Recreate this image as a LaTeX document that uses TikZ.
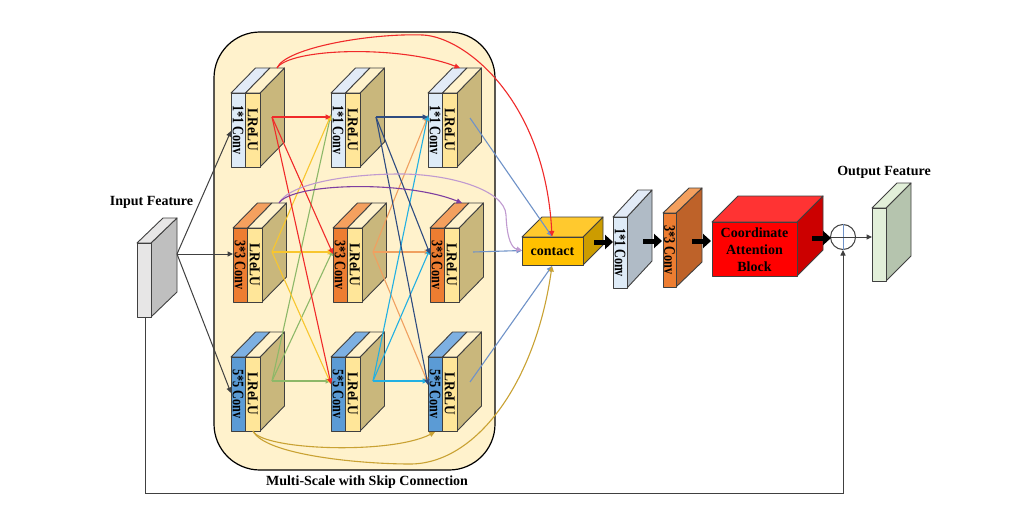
\documentclass[tikz,border=0pt]{standalone}
\usepackage{fontspec}
\usepackage{graphicx}
\setmainfont{Liberation Serif}
\usetikzlibrary{arrows.meta,calc}
\definecolor{panelc}{HTML}{FFF2CC}
\definecolor{sidec}{HTML}{C9B77C}
\definecolor{lrf}{HTML}{FFE699}
\definecolor{lrt}{HTML}{FFF2CC}
\definecolor{aF}{HTML}{DEEBF7}\definecolor{aT}{HTML}{E2EBF7}
\definecolor{bF}{HTML}{ED7D31}\definecolor{bT}{HTML}{F4A05E}
\definecolor{cF}{HTML}{5B9BD5}\definecolor{cT}{HTML}{7DB0E2}
\definecolor{cred}{HTML}{F02A2A}
\definecolor{cyel}{HTML}{F8C62E}
\definecolor{cgrn}{HTML}{8DB868}
\definecolor{cnav}{HTML}{2F4C80}
\definecolor{cora}{HTML}{F0A060}
\definecolor{ccya}{HTML}{22B0E2}
\definecolor{cste}{HTML}{6F92C8}
\definecolor{cpur}{HTML}{7E3FA0}
\definecolor{clpu}{HTML}{C09AD0}
\definecolor{cgol}{HTML}{C9A233}
\definecolor{edgec}{HTML}{404040}
\definecolor{inF}{HTML}{E7E6E6}\definecolor{inS}{HTML}{BFBFBF}
\definecolor{oneS}{HTML}{B0BBC6}
\definecolor{thrS}{HTML}{BE6229}
\definecolor{conF}{HTML}{FFC000}\definecolor{conT}{HTML}{FFC92E}\definecolor{conS}{HTML}{CC9C00}
\definecolor{redT}{HTML}{FF3333}\definecolor{redS}{HTML}{CC0000}
\definecolor{outF}{HTML}{E2EFD9}\definecolor{outS}{HTML}{B5C4AE}
\tikzset{
  face/.style={draw=edgec,line width=0.9pt,line join=round},
  link/.style={line width=1.1pt,-{Triangle[length=5.5pt,width=5pt]}},
  feed/.style={draw=edgec,line width=1pt,-{Triangle[length=5.5pt,width=5pt]}},
  fat/.style={line width=5pt,black,-{Triangle[length=8pt,width=14pt]}},
  lab/.style={font=\bfseries\fontsize{14}{16}\selectfont,text=black,inner sep=0pt},
  vlab/.style={font=\bfseries,text=black,rotate=-90,inner sep=0pt},
}
\newcommand{\convtext}[1]{\scalebox{.76}[1]{\fontsize{16}{17}\selectfont #1}}
\newcommand{\lrtext}{\scalebox{.89}[1]{\fontsize{15}{16}\selectfont LReLU}}
% multi-scale block: name, x, y (front top-left), front colour, top colour, text
\newcommand{\msblock}[6]{%
  \fill[face,fill=sidec] (#2+29,#3) -- ++(24.5,-25) -- ++(0,74) -- ++(-24.5,25) -- cycle;
  \fill[face,fill=#5] (#2,#3) -- ++(24.5,-25) -- ++(14.5,0) -- ++(-24.5,25) -- cycle;
  \fill[face,fill=lrt] (#2+14.5,#3) -- ++(24.5,-25) -- ++(14.5,0) -- ++(-24.5,25) -- cycle;
  \fill[face,fill=#4] (#2,#3) rectangle ++(14.5,74);
  \fill[face,fill=lrf] (#2+14.5,#3) rectangle ++(14.5,74);
  \node[vlab] (#1a) at (#2+7.2,#3+37) {\convtext{#6}};
  \node[vlab] (#1b) at (#2+21.8,#3+37) {\lrtext};
  \coordinate (#1in) at (#2,#3+24);
  \coordinate (#1out) at (#2+41,#3+24);
  \coordinate (#1tgt) at (#2+32,#3-25);
}
% plain cuboid: x0, y back top, x1, x2, y0, y1, front, top, side
\newcommand{\cuboid}[9]{%
  \fill[face,fill=#9] (#3,#5) -- (#4,#2) -- (#4,#2+#6-#5) -- (#3,#6) -- cycle;
  \fill[face,fill=#8] (#1,#5) -- (#1+#4-#3,#2) -- (#4,#2) -- (#3,#5) -- cycle;
  \fill[face,fill=#7] (#1,#5) rectangle (#3,#6);
}
\begin{document}
\begin{tikzpicture}[x=1pt,y=-1pt]
\useasboundingbox (0,0) rectangle (1032,508);
\fill[white] (0,0) rectangle (1032,508);
\draw[line width=1.2pt,fill=panelc,rounded corners=46pt] (214,32) rectangle (495,470);
\node[lab] (panellabel) at (367,482) {Multi-Scale with Skip Connection};
\node[lab] (inlabel) at (151.5,202) {Input Feature};
\node[lab] (outlabel) at (884,172.5) {Output Feature};

\msblock{A1}{231}{93}{aF}{aT}{1*1 Conv}
\msblock{A2}{331}{93}{aF}{aT}{1*1 Conv}
\msblock{A3}{428}{93}{aF}{aT}{1*1 Conv}
\msblock{B1}{233}{228}{bF}{bT}{3*3 Conv}
\msblock{B2}{333}{228}{bF}{bT}{3*3 Conv}
\msblock{B3}{430}{228}{bF}{bT}{3*3 Conv}
\msblock{C1}{231}{357}{cF}{cT}{5*5 Conv}
\msblock{C2}{331}{357}{cF}{cT}{5*5 Conv}
\msblock{C3}{428}{357}{cF}{cT}{5*5 Conv}
\coordinate (A2out) at (376,117);
\coordinate (B1out) at (272,252);
\coordinate (B2out) at (373,252);
\coordinate (C1out) at (272,381);
\coordinate (C2out) at (373,381);
\coordinate (A1x) at (277,68);
\coordinate (B1x) at (279,203);
\coordinate (C1x) at (253,431);
\coordinate (A3out) at (470,118);
\coordinate (B3out) at (473,252);
\coordinate (C3out) at (470,382);

% input, contact and the later blocks
\cuboid{137}{218}{151}{177}{243}{317}{inF}{inF}{inS}
\cuboid{522}{217}{583}{603}{237}{265}{conF}{conT}{conS}
\node[lab] (contact) at (552.5,252) {contact};
\cuboid{613}{190}{627}{652}{217}{288}{aF}{aT}{oneS}
\node[vlab] (oneconv) at (620,252.5) {\convtext{1*1 Conv}};
\cuboid{663}{188}{676}{702}{213}{287}{bF}{bT}{thrS}
\node[vlab] (thrconv) at (669.5,250) {\convtext{3*3 Conv}};
\cuboid{712}{196}{797}{823}{222}{276}{red}{redT}{redS}
\node[lab,align=center,font=\bfseries\fontsize{14}{17}\selectfont] (cablock) at (754.5,250) {Coordinate\\Attention\\Block};
\cuboid{872}{183}{886}{911}{208}{281}{outF}{outF}{outS}
\node[circle,draw=edgec,line width=1pt,minimum size=25pt,inner sep=0pt] (sum) at (843,237) {};
\draw[line width=1pt,cste] (sum.north) -- (sum.south);
\draw[line width=1pt,edgec] (sum.west) -- (sum.east);

\coordinate (inR) at (177,254);
\coordinate (inB) at (145,317);
\coordinate (tipA) at (231,131);
\coordinate (tipB) at (233,254);
\coordinate (tipC) at (231,393);
\coordinate (outIn) at (872,237);
\coordinate (fbA) at (145,493);
\coordinate (fbB) at (843,493);
\coordinate (ctop) at (552,236.5);
\coordinate (cbot) at (552,266);
\coordinate (cleft) at (522,250.5);

\draw[feed] (inR) -- (tipA);
\draw[feed] (inR) -- (tipB);
\draw[feed] (inR) -- (tipC);
\draw[feed] (inB) -- (fbA) -- (fbB) -- (sum.south);
\draw[feed] (sum.east) -- (outIn);

% green
\draw[link,cgrn] (C1out) -- ([yshift=3pt]A2in);
\draw[link,cgrn] (C1out) -- ([yshift=2pt]B2in);
\draw[link,cgrn] (C1out) -- (C2in);
% yellow
\draw[link,cyel] (B1out) -- ([yshift=2pt]A2in);
\draw[link,cyel] (B1out) -- (B2in);
\draw[link,cyel] (B1out) -- ([yshift=-3pt]C2in);
% red
\draw[link,cred] (A1out) -- (A2in);
\draw[link,cred] (A1out) -- ([yshift=-2pt]B2in);
\draw[link,cred] (A1out) -- ([yshift=-3pt]C2in);
% orange
\draw[link,cora] (B2out) -- ([yshift=1pt]A3in);
\draw[link,cora] (B2out) -- (B3in);
\draw[link,cora] (B2out) -- ([yshift=-2pt]C3in);
% cyan
\draw[link,ccya] (C2out) -- ([yshift=2pt]A3in);
\draw[link,ccya] (C2out) -- ([yshift=3pt]B3in);
\draw[link,ccya] (C2out) -- (C3in);
% navy
\draw[link,cnav] (A2out) -- (A3in);
\draw[link,cnav] (A2out) -- ([yshift=-2pt]B3in);
\draw[link,cnav] (A2out) -- ([yshift=-4pt]C3in);
% outputs
\draw[link,cste] (A3out) -- (ctop);
\draw[link,cste] (B3out) -- (cleft);
\draw[link,cste] (C3out) -- (cbot);
% skips
\draw[link,cred] (A1x) .. controls (290,48) and (400,45) .. (A3tgt);
\draw[link,cred] (A1x) .. controls (285,48) and (370,33) .. (423,35) .. controls (465,37) and (545,100) .. (ctop);
\draw[link,clpu] (B1x) .. controls (290,183) and (350,174) .. (400,174) .. controls (450,174) and (505,190) .. (506,215) .. controls (507,240) and (512,248) .. (cleft);
\draw[link,cpur] (B1x) .. controls (292,183) and (405,180) .. (B3tgt);
\draw[link,cgol] (C1x) .. controls (262,450) and (390,455) .. (435,432);
\draw[link,cgol] (C1x) .. controls (265,455) and (360,464) .. (410,464) .. controls (475,464) and (535,385) .. (cbot);

% fat arrows
\coordinate (f1a) at (594,242);\coordinate (f1b) at (613,242);
\coordinate (f2a) at (643,241);\coordinate (f2b) at (662,241);
\coordinate (f3a) at (692,241);\coordinate (f3b) at (711,241);
\coordinate (f4a) at (812,238);\coordinate (f4b) at (831,238);
\draw[fat] (f1a) -- (f1b);
\draw[fat] (f2a) -- (f2b);
\draw[fat] (f3a) -- (f3b);
\draw[fat] (f4a) -- (f4b);
\end{tikzpicture}
\end{document}
